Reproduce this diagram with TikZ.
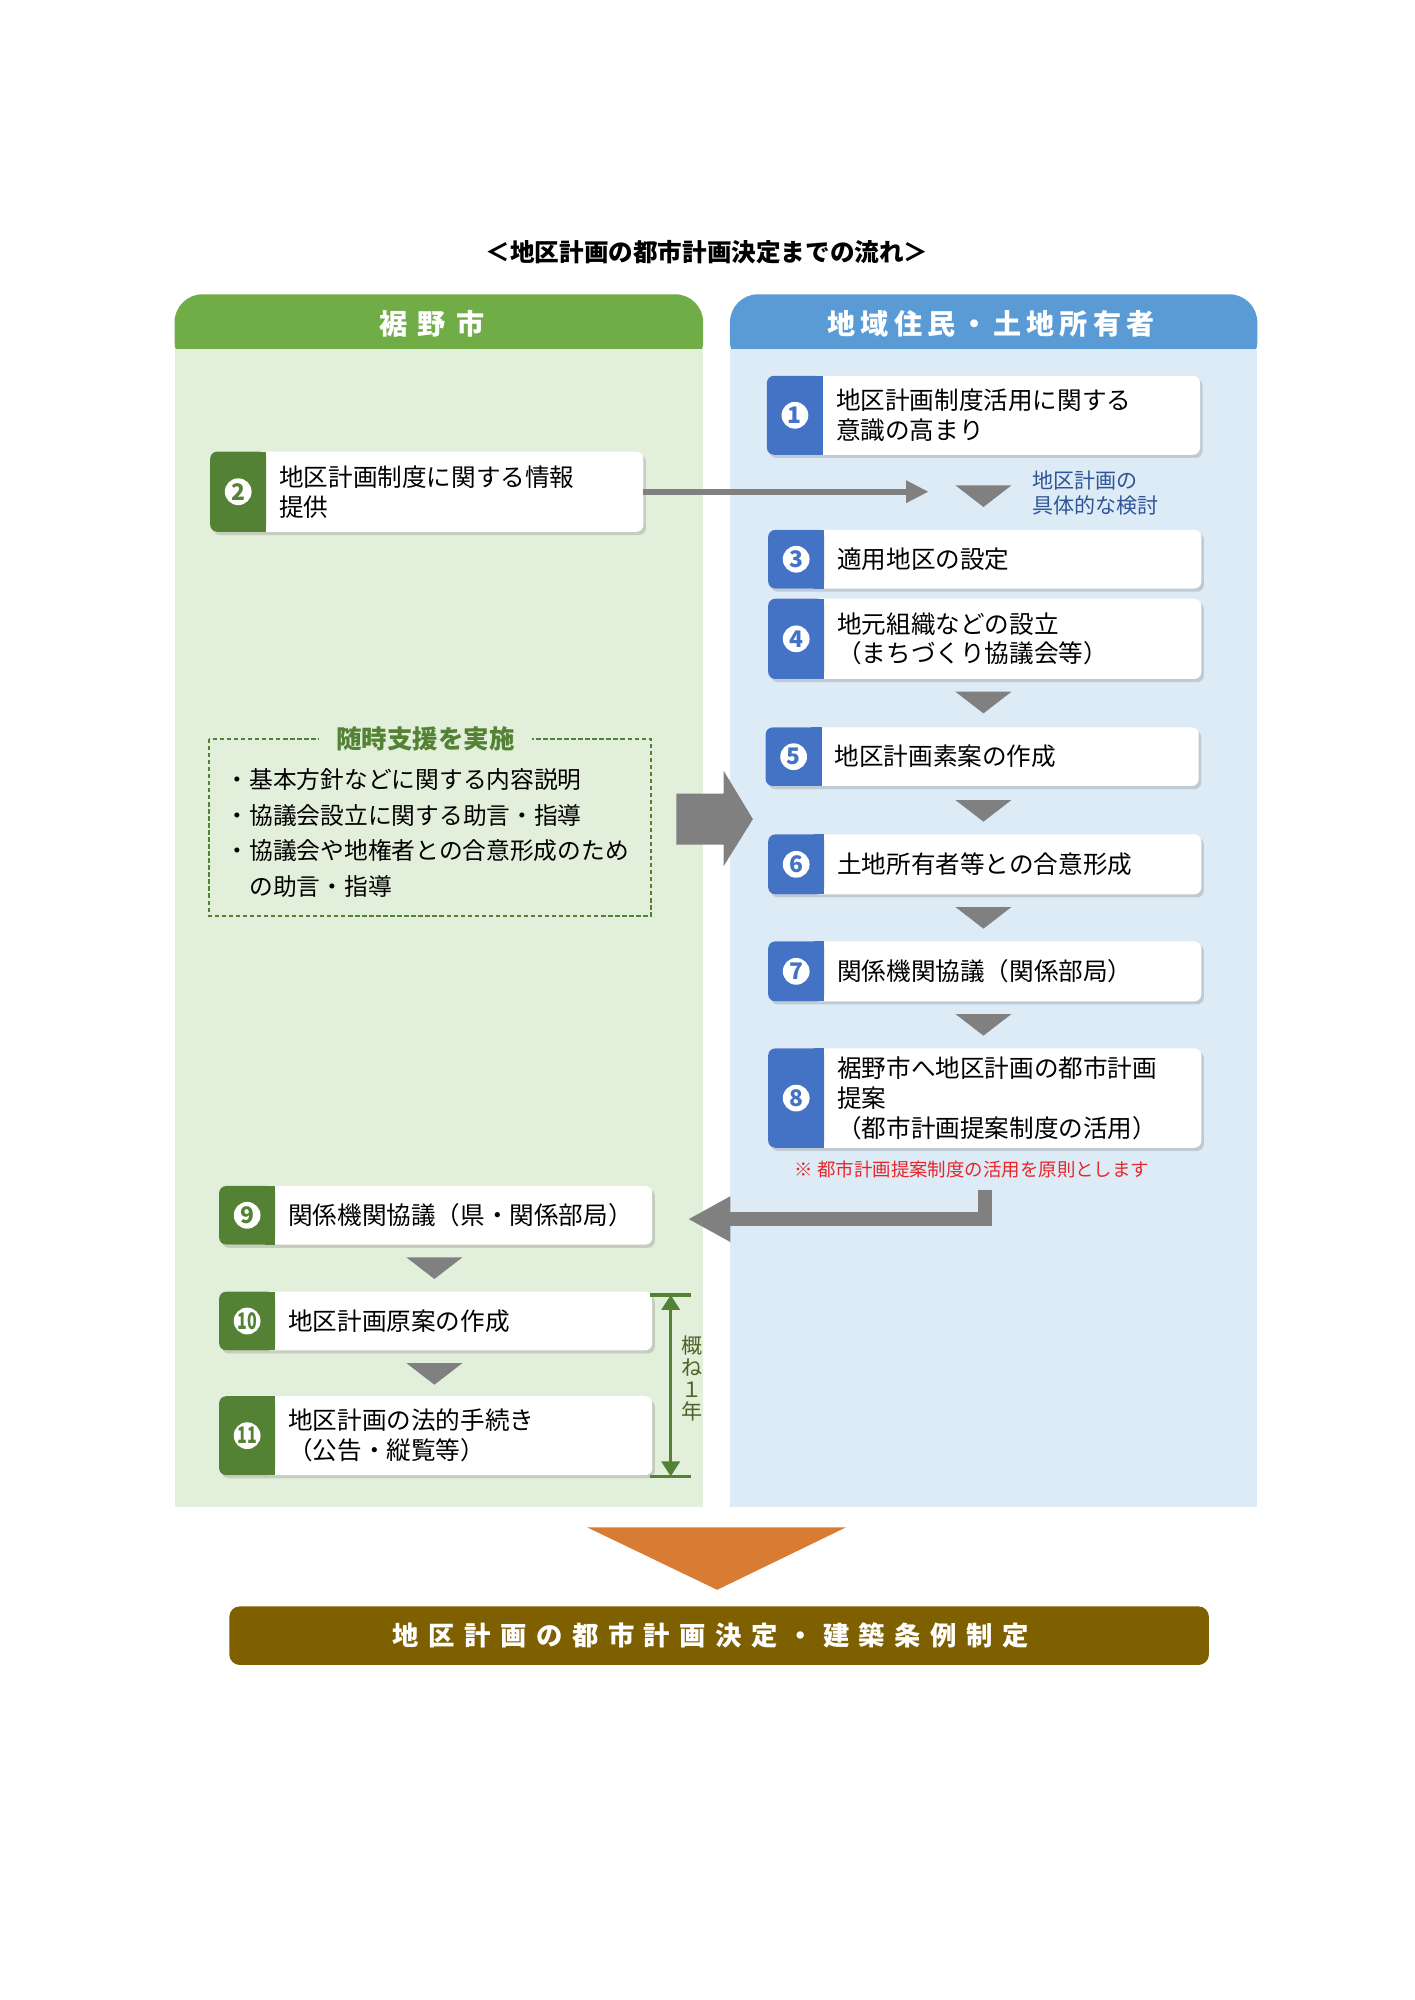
\documentclass[tikz,border=0pt]{standalone}
\usepackage{fontspec}
\setmainfont{Noto Sans CJK JP}
\newfontfamily\headfont[LetterSpace=18]{Noto Sans CJK JP}
\newfontfamily\cityfont[LetterSpace=14]{Noto Sans CJK JP}
\newfontfamily\goalfont[LetterSpace=36]{Noto Sans CJK JP}
\usetikzlibrary{arrows.meta, shadows, calc}
\definecolor{leftbg}{HTML}{E2EFDA}
\definecolor{lefthead}{HTML}{70AD47}
\definecolor{tabgreen}{HTML}{548235}
\definecolor{rightbg}{HTML}{DDEBF7}
\definecolor{righthead}{HTML}{5B9BD5}
\definecolor{tabblue}{HTML}{4472C4}
\definecolor{flowgray}{HTML}{808080}
\definecolor{notered}{HTML}{E8262A}
\definecolor{notenavy}{HTML}{2F5597}
\definecolor{yeargreen}{HTML}{4F6228}
\definecolor{endorange}{HTML}{D87B33}
\definecolor{endbrown}{HTML}{7F6000}
\newcommand\twodig[1]{\scalebox{0.7}[1]{#1}}
\tikzset{
    pics/scard/.style args = {#1/#2/#3}{
        code = {%
        \coordinate (-center) at (0,0);
        \coordinate (-north) at (0,-#1/2);
        \coordinate (-south) at (0,#1/2);
        \coordinate (-east) at (170,0);
        \coordinate (-west) at (-170,0);
        \coordinate (-text) at (-116,0);
        \fill[white,rounded corners=4pt,drop shadow={shadow xshift=1.5pt,shadow yshift=-1.8pt,opacity=.3}] (-170,-#1/2) rectangle (170,#1/2);
        \fill[#2,rounded corners=4pt] (-170,-#1/2) rectangle (-126,#1/2);
        \fill[#2] (-134,-#1/2) rectangle (-126,#1/2);
        \fill[white] (-148,0) circle[radius=10.5];
        \node[text=#2,font=\bfseries\fontsize{13}{13}\selectfont,inner sep=0pt] (-num) at (-148,0) {#3};
        }
    },
    pics/dmark/.style = {
        code = {%
        \fill[flowgray] (-22,-8) -- (22,-8) -- (0,9) -- cycle;
        }
    },
    steptext/.style = {anchor=west, align=left, inner sep=0pt, font=\fontsize{14}{17}\selectfont},
    headtext/.style = {text=white, inner sep=0pt, font=\bfseries\fontsize{16}{16}\selectfont},
    thinflow/.style = {draw=flowgray, line width=3.6pt, -{Triangle[length=0.45cm,width=0.42cm]}},
    fatflow/.style = {draw=flowgray, line width=8pt, line join=miter, -{Triangle[length=0.85cm,width=0.85cm]}},
    yearline/.style = {draw=tabgreen, line width=2pt},
}
\begin{document}
\begin{tikzpicture}[x=0.02548cm, y=-0.02548cm]
\useasboundingbox (0,0) rectangle (1110,1570);

\node[inner sep=0pt, font=\bfseries\fontsize{14}{17}\selectfont] (title) at (555,198) {＜地区計画の都市計画決定までの流れ＞};

% columns
\fill[lefthead,rounded corners=16pt] (137,231) rectangle (552,290);
\fill[leftbg] (137,274) rectangle (552,1183);
\node[headtext] (lhead) at (339,254) {\cityfont 裾 野 市};

\fill[righthead,rounded corners=16pt] (573,231) rectangle (987,290);
\fill[rightbg] (573,274) rectangle (987,1183);
\node[headtext] (rhead) at (778,254) {\headfont 地域住民・土地所有者};

% right column
\pic(C1) at (772,326) {scard=62/tabblue/1};
\node[steptext] (T1) at (C1-text) {地区計画制度活用に関する\\意識の高まり};

\pic at (772,389) {dmark};
\node[anchor=west, align=left, inner sep=0pt, text=notenavy, font=\fontsize{12}{14.5}\selectfont] (plan) at (810,387) {地区計画の\\具体的な検討};

\pic(C3) at (773,439) {scard=46/tabblue/3};
\node[steptext] (T3) at (C3-text) {適用地区の設定};

\pic(C4) at (773,501.5) {scard=63/tabblue/4};
\node[steptext] (T4) at (C4-text) {地元組織などの設立\\（まちづくり協議会等）};

\pic at (772,551) {dmark};

\pic(C5) at (771,594) {scard=46/tabblue/5};
\node[steptext] (T5) at (C5-text) {地区計画素案の作成};

\pic at (772,636) {dmark};

\pic(C6) at (773,678.5) {scard=47/tabblue/6};
\node[steptext] (T6) at (C6-text) {土地所有者等との合意形成};

\pic at (772,720) {dmark};

\pic(C7) at (773,762.5) {scard=47/tabblue/7};
\node[steptext] (T7) at (C7-text) {関係機関協議（関係部局）};

\pic at (772,804) {dmark};

\pic(C8) at (773,862) {scard=78/tabblue/8};
\node[steptext] (T8) at (C8-text) {裾野市へ地区計画の都市計画\\提案\\（都市計画提案制度の活用）};

\node[inner sep=0pt, text=notered, font=\fontsize{10.5}{12}\selectfont] (note) at (763,918) {※ 都市計画提案制度の活用を原則とします};

% left column
\pic(C2) at (335,386) {scard=63/tabgreen/2};
\node[steptext] (T2) at (C2-text) {地区計画制度に関する情報\\提供};
\coordinate (a2) at (729,386);
\draw[thinflow] (C2-east) -- (a2);

\draw[draw=tabgreen, line width=1.1pt, dash pattern=on 2.5pt off 1.5pt] (164,580) rectangle (511,719);
\node[fill=leftbg, inner xsep=10pt, inner ysep=1pt, text=tabgreen, font=\bfseries\fontsize{14.5}{17}\selectfont] (sup) at (334,580) {随時支援を実施};
\node[anchor=north west, align=left, inner sep=0pt, font=\fontsize{13.5}{20.3}\selectfont] (supl) at (177,603) {・基本方針などに関する内容説明\\・協議会設立に関する助言・指導\\・協議会や地権者との合意形成のため\\　の助言・指導};
\fill[flowgray] (531,623) -- (568,623) -- (568,605) -- (591,643) -- (568,680) -- (568,663) -- (531,663) -- cycle;

\pic(C9) at (342,954) {scard=46/tabgreen/9};
\node[steptext] (T9) at (C9-text) {関係機関協議（県・関係部局）};
\coordinate (l8) at (773,934);
\coordinate (p9) at (540,957);
\draw[fatflow] (l8) |- (p9);

\pic at (341,995) {dmark};

\pic(C10) at (342,1037) {scard=46/tabgreen/\twodig{10}};
\node[steptext] (T10) at (C10-text) {地区計画原案の作成};

\pic at (341,1078) {dmark};

\pic(C11) at (342,1127) {scard=62/tabgreen/\twodig{11}};
\node[steptext] (T11) at (C11-text) {地区計画の法的手続き\\（公告・縦覧等）};

\coordinate (ytop) at (526.5,1016.5);
\coordinate (ybot) at (526.5,1159);
\draw[yearline] ($(ytop)+(-16,0)$) -- ($(ytop)+(16,0)$);
\draw[yearline] ($(ybot)+(-16,0)$) -- ($(ybot)+(16,0)$);
\draw[yearline, {Triangle[length=0.3cm,width=0.36cm]}-{Triangle[length=0.3cm,width=0.36cm]}] (ytop) -- (ybot);
\node[align=center, inner sep=0pt, text=yeargreen, font=\fontsize{12}{12.5}\selectfont] (year) at (543,1082) {概\\ね\\１\\年};

% result
\fill[endorange] (461,1199) -- (664,1199) -- (563,1248) -- cycle;
\fill[endbrown, rounded corners=6pt] (180,1261) rectangle (949,1307);
\node[inner sep=0pt, text=white, font=\bfseries\fontsize{15}{15}\selectfont] (goal) at (558,1284) {\goalfont 地区計画の都市計画決定・建築条例制定};
\end{tikzpicture}
\end{document}
